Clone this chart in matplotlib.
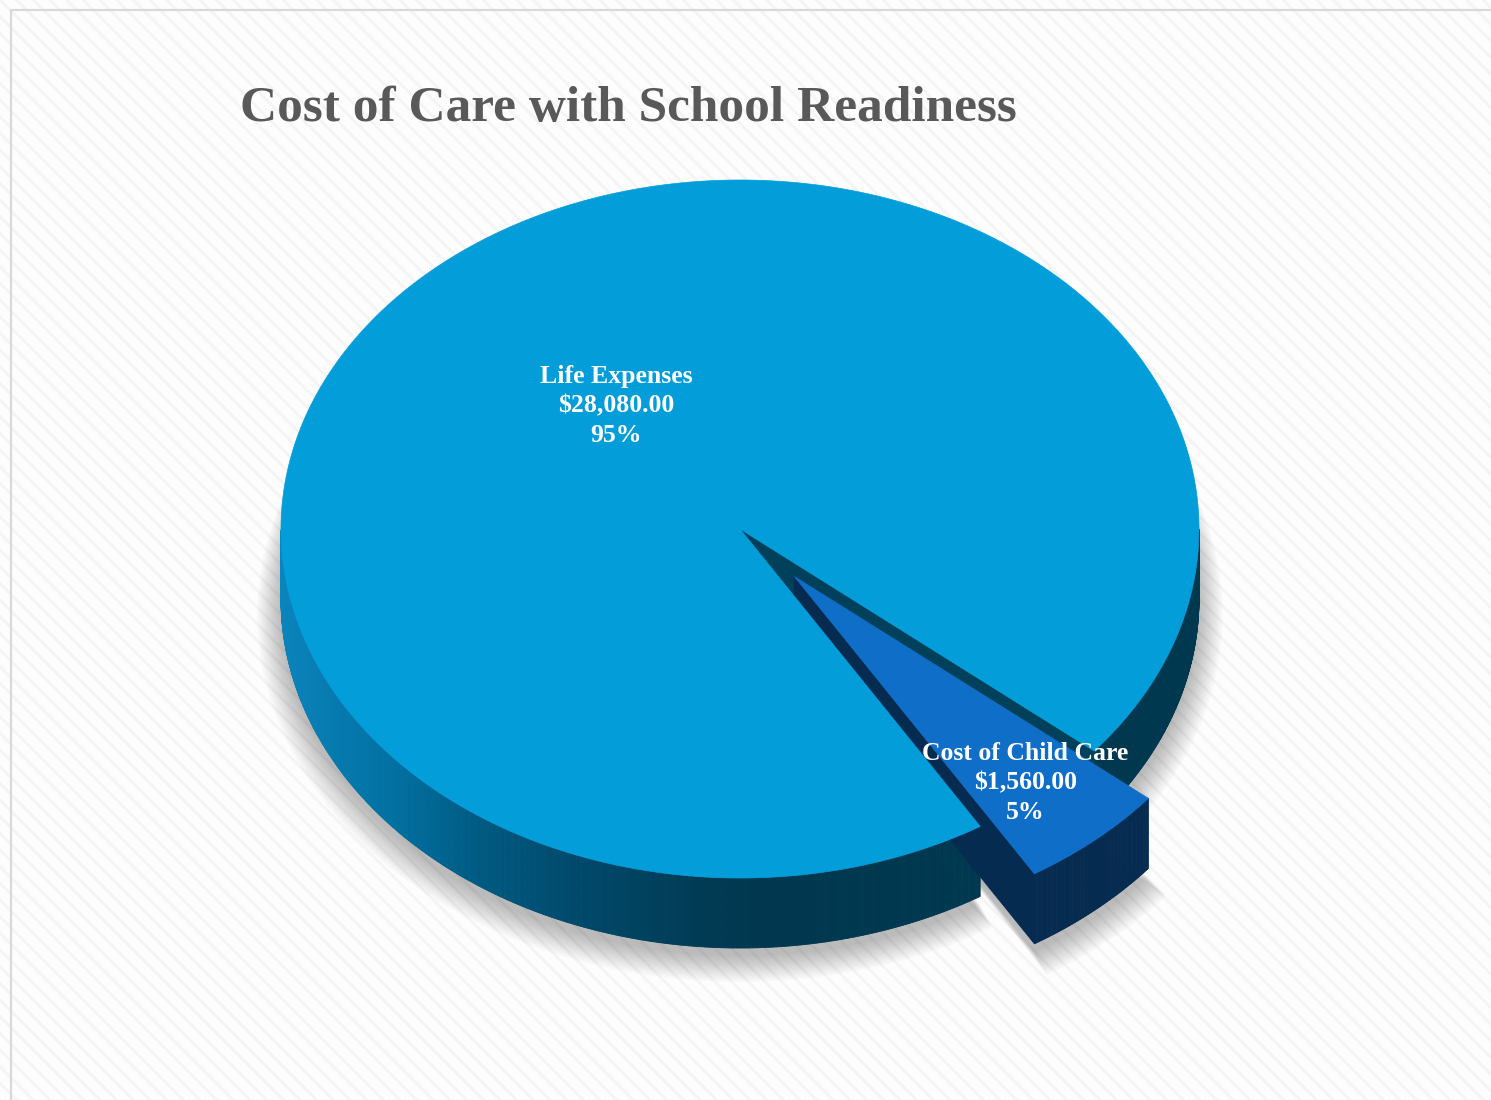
import numpy as np
import matplotlib.pyplot as plt
from matplotlib.patches import Polygon, Rectangle
from matplotlib.collections import PolyCollection
from matplotlib.colors import to_rgb

# data
labels = ["Life Expenses", "Cost of Child Care"]
amounts = [28080.00, 1560.00]
explode = [0.0, 0.18]
top_colors = ["#039dda", "#0f6ec8"]
cut_colors = ["#00405a", "#062b50"]
title = "Cost of Care with School Readiness"

# label placement (fraction of radius along the mid angle + small pixel nudge)
label_radius = [0.44, 0.77]
label_nudge = [(9, -7), (-1, 4)]

# layout of the 3d pie, in pixels
W, H = 1491, 1100
cx, cy = 740, 529
rx, ry = 459, 349
depth = 70
start = -39.5

# side gradient of the big slice (screen x -> colour)
grad_x = [281, 400, 480, 580, 700, 760]
grad_c = ["#0b84bc", "#006fa0", "#005a82", "#00486a", "#003b55", "#00384f"]

plt.rcParams['hatch.linewidth'] = 2.0

fig = plt.figure(figsize=(W / 100, H / 100), dpi=100)
ax = fig.add_axes([0, 0, 1, 1])
ax.set_xlim(0, W)
ax.set_ylim(H, 0)
ax.axis('off')

# background with fine diagonal stripes + frame
ax.add_patch(Rectangle((0, 0), W, H, facecolor="#fdfdfd", edgecolor="#f4f4f4",
                       hatch="\\\\", linewidth=0, zorder=0))
ax.plot([11, 11, W], [H, 10, 10], color="#d9d9d9", lw=1.6, zorder=1)


def pt(theta_deg, r=1.0, off=(0, 0), dz=0):
    t = np.radians(theta_deg)
    return (cx + off[0] + r * rx * np.cos(t), cy + off[1] - r * ry * np.sin(t) + dz)


def grad_color(x):
    rgb = np.array([to_rgb(c) for c in grad_c])
    return tuple(np.interp(x, grad_x, rgb[:, k]) for k in range(3))


total = sum(amounts)
spans = [a / total * 360 for a in amounts]
bounds = []
a = start
for s in spans:
    bounds.append((a, a + s))
    a += s
mids = [(a0 + a1) / 2 for a0, a1 in bounds]
offsets = [(e * rx * np.cos(np.radians(m)), -e * ry * np.sin(np.radians(m)))
           for e, m in zip(explode, mids)]

# soft shadow under the pie
for i, ((a0, a1), off) in enumerate(zip(bounds, offsets)):
    th = np.linspace(a0, a1, 400)
    for k in range(14):
        grow = 1 + k * 0.004
        xs = [cx + off[0]] + [cx + off[0] + grow * rx * np.cos(np.radians(t)) for t in th]
        ys = [cy + off[1] + depth + 8] + [cy + off[1] + depth + 8 - grow * ry * np.sin(np.radians(t)) + k * 0.6 for t in th]
        ax.add_patch(Polygon(np.column_stack([xs, ys]), closed=True, facecolor="#000000",
                             edgecolor="none", alpha=0.02, zorder=2))

z = 3
for i, ((a0, a1), off) in enumerate(zip(bounds, offsets)):
    # outer wall, front half only
    th = np.linspace(a0, a1, int((a1 - a0) * 4) + 2)
    quads, cols = [], []
    for t0, t1 in zip(th[:-1], th[1:]):
        if np.sin(np.radians((t0 + t1) / 2)) >= 0:
            continue
        p0, p1 = pt(t0, off=off), pt(t1, off=off)
        quads.append([p0, p1, (p1[0], p1[1] + depth), (p0[0], p0[1] + depth)])
        cols.append(grad_color((p0[0] + p1[0]) / 2) if i == 0 else cut_colors[1])
    ax.add_collection(PolyCollection(quads, facecolors=cols, edgecolors=cols,
                                     linewidths=0.6, zorder=z))
    # cut faces that look toward the viewer
    for edge, normal in ((a0, a0 - 90), (a1, a1 + 90)):
        if np.sin(np.radians(normal)) < 0:
            c0, r0 = pt(edge, r=0, off=off), pt(edge, off=off)
            face = [c0, r0, (r0[0], r0[1] + depth), (c0[0], c0[1] + depth)]
            ax.add_patch(Polygon(face, closed=True, facecolor=cut_colors[i],
                                 edgecolor=cut_colors[i], lw=0.6, zorder=z))
    z += 1

# top faces
for i, ((a0, a1), off) in enumerate(zip(bounds, offsets)):
    th = np.linspace(a0, a1, 600)
    verts = [pt(0, r=0, off=off)] + [pt(t, off=off) for t in th]
    ax.add_patch(Polygon(verts, closed=True, facecolor=top_colors[i],
                         edgecolor=top_colors[i], lw=0.5, zorder=10))

# data labels
for lab, amt, m, off, r, nd in zip(labels, amounts, mids, offsets, label_radius, label_nudge):
    x, y = pt(m, r=r, off=off)
    ax.text(x + nd[0], y + nd[1], f"{lab}\n${amt:,.2f}\n{amt / total:.0%}", ha="center",
            va="center", color="white", fontsize=18.5, fontweight="bold",
            family="Liberation Serif", linespacing=1.35, zorder=11)

ax.text(240, 121, title, ha="left", va="baseline", color="#595959", fontsize=37,
        fontweight="bold", family="Liberation Serif", zorder=11)

fig.savefig("out.png", dpi=100)
